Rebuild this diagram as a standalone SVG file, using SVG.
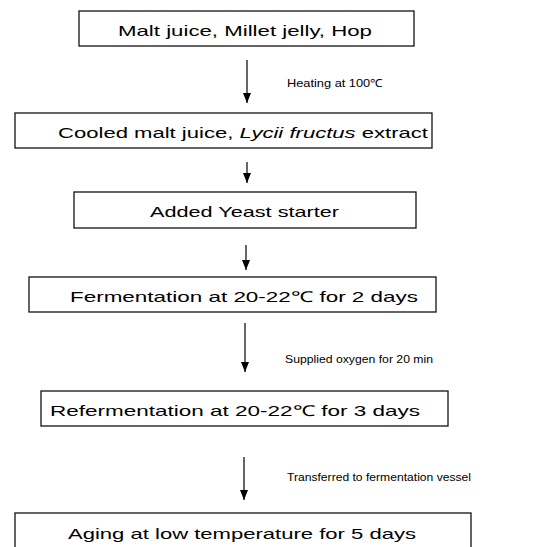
<svg xmlns="http://www.w3.org/2000/svg" width="541" height="547" viewBox="0 0 541 547">
<defs>
<marker id="ah" viewBox="0 0 10 8" refX="10" refY="4" markerWidth="10" markerHeight="8" markerUnits="userSpaceOnUse" orient="auto">
<path d="M0,0 L10,4 L0,8 Z" fill="#000"/>
</marker>
</defs>
<style>
.box{fill:#fff;stroke:#111;stroke-width:1.3}
.t{font-family:"Liberation Sans",Arial,sans-serif;font-size:15px;fill:#000}
.lbl{font-family:"Liberation Sans",Arial,sans-serif;font-size:11px;fill:#000}
.c{stroke:#000;stroke-width:1.2;fill:none}
</style>
<rect width="541" height="547" fill="#fff"/>
<g id="connectors">
<line class="c" x1="247" y1="60" x2="247" y2="103" marker-end="url(#ah)"/>
<line class="c" x1="247" y1="162" x2="247" y2="183" marker-end="url(#ah)"/>
<line class="c" x1="246" y1="245" x2="246" y2="270" marker-end="url(#ah)"/>
<line class="c" x1="245" y1="323" x2="245" y2="372" marker-end="url(#ah)"/>
<line class="c" x1="244" y1="457" x2="244" y2="500" marker-end="url(#ah)"/>
<text class="lbl" x="287" y="87" textLength="96" lengthAdjust="spacingAndGlyphs">Heating at 100℃</text>
<text class="lbl" x="285" y="363" textLength="148" lengthAdjust="spacingAndGlyphs">Supplied oxygen for 20 min</text>
<text class="lbl" x="287" y="481" textLength="184" lengthAdjust="spacingAndGlyphs">Transferred to fermentation vessel</text>
</g>
<g id="n1">
<rect class="box" x="79" y="11" width="335" height="35"/>
<text class="t" x="118" y="36" textLength="254" lengthAdjust="spacingAndGlyphs">Malt juice, Millet jelly, Hop</text>
</g>
<g id="n2">
<rect class="box" x="15" y="113" width="417" height="35"/>
<text class="t" x="58" y="138" textLength="370" lengthAdjust="spacingAndGlyphs">Cooled malt juice, <tspan font-style="italic">Lycii fructus</tspan> extract</text>
</g>
<g id="n3">
<rect class="box" x="74" y="192" width="342" height="36"/>
<text class="t" x="150" y="217" textLength="189" lengthAdjust="spacingAndGlyphs">Added Yeast starter</text>
</g>
<g id="n4">
<rect class="box" x="29" y="277" width="407" height="35"/>
<text class="t" x="70" y="302" textLength="348" lengthAdjust="spacingAndGlyphs">Fermentation at 20-22℃ for 2 days</text>
</g>
<g id="n5">
<rect class="box" x="41" y="391" width="407" height="35"/>
<text class="t" x="50" y="416" textLength="370" lengthAdjust="spacingAndGlyphs">Refermentation at 20-22℃ for 3 days</text>
</g>
<g id="n6">
<rect class="box" x="15" y="513" width="456" height="40"/>
<text class="t" x="68" y="539" textLength="348" lengthAdjust="spacingAndGlyphs">Aging at low temperature for 5 days</text>
</g>
</svg>
